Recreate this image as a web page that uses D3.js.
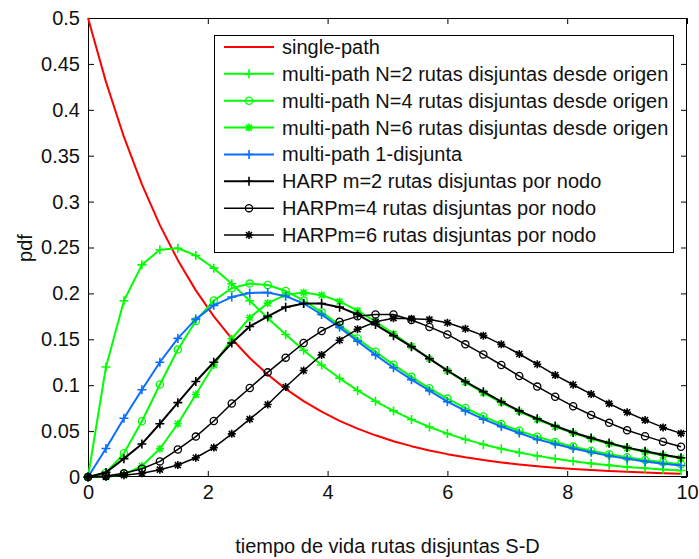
<!DOCTYPE html>
<html>
<head>
<meta charset="utf-8">
<script src="https://cdn.jsdelivr.net/npm/d3@7"></script>
<style>
  html, body { margin: 0; padding: 0; background: #fff; }
  svg { display: block; }
  text { font-family: "Liberation Sans", Arial, sans-serif; fill: #111; }
</style>
</head>
<body>
<svg id="chart" width="699" height="559"></svg>
<script>
// ---- data ----
const tValues = [0,0.3,0.6,0.9,1.2,1.5,1.8,2.1,2.4,2.7,3.0,3.3,3.6,3.9,4.2,4.5,4.8,5.1,5.4,5.7,6.0,6.3,6.6,6.9,7.2,7.5,7.8,8.1,8.4,8.7,9.0,9.3,9.6,9.9];

const singlePath = [0.5,0.4304,0.3704,0.3188,0.2744,0.2362,0.2033,0.1750,0.1506,0.1296,0.1116,0.0960,0.0826,0.0711,0.0612,0.0527,0.0454,0.0390,0.0336,0.0289,0.0249,0.0214,0.0184,0.0159,0.0137,0.0118,0.0101,0.0087,0.0075,0.0065,0.0056,0.0048,0.0041,0.0035];

const multiN2 = [0,0.1199,0.1920,0.2311,0.2476,0.2492,0.2413,0.2275,0.2105,0.1920,0.1733,0.1552,0.1380,0.1220,0.1075,0.0943,0.0825,0.0720,0.0627,0.0545,0.0473,0.0410,0.0355,0.0307,0.0266,0.0230,0.0198,0.0171,0.0148,0.0127,0.0110,0.0095,0.0082,0.0070];

const multiN4 = [0,0.0047,0.0258,0.0607,0.1008,0.1388,0.1699,0.1923,0.2056,0.2107,0.2092,0.2026,0.1923,0.1796,0.1655,0.1509,0.1364,0.1224,0.1091,0.0967,0.0854,0.0751,0.0659,0.0576,0.0503,0.0438,0.0381,0.0331,0.0287,0.0248,0.0215,0.0186,0.0161,0.0139];

const multiN6 = [0,0.0001,0.0026,0.0120,0.0308,0.0580,0.0898,0.1219,0.1506,0.1735,0.1894,0.1984,0.2009,0.1981,0.1912,0.1812,0.1692,0.1560,0.1424,0.1288,0.1157,0.1033,0.0917,0.0811,0.0714,0.0626,0.0548,0.0479,0.0417,0.0363,0.0315,0.0273,0.0237,0.0205];

const multi1Disj = [0,0.031,0.064,0.095,0.125,0.151,0.172,0.187,0.196,0.2005,0.201,0.197,0.189,0.177,0.163,0.148,0.133,0.119,0.106,0.094,0.082,0.072,0.063,0.055,0.048,0.041,0.036,0.031,0.027,0.023,0.020,0.017,0.0145,0.0125];

const harpM2 = [0,0.005,0.020,0.036,0.058,0.081,0.104,0.125,0.146,0.164,0.175,0.185,0.189,0.189,0.185,0.177,0.166,0.154,0.142,0.129,0.116,0.104,0.093,0.082,0.072,0.0635,0.0555,0.0485,0.0425,0.037,0.032,0.028,0.0243,0.021];

const harpM4 = [0,0.001,0.004,0.009,0.017,0.030,0.044,0.061,0.080,0.097,0.114,0.130,0.146,0.159,0.169,0.175,0.177,0.177,0.171,0.1635,0.1553,0.1445,0.1335,0.122,0.110,0.0985,0.0875,0.077,0.0675,0.059,0.051,0.0445,0.0385,0.033];

const harpM6 = [0,0.0003,0.002,0.004,0.008,0.013,0.021,0.032,0.047,0.063,0.079,0.098,0.116,0.133,0.149,0.161,0.169,0.173,0.1725,0.1715,0.168,0.1615,0.154,0.1445,0.134,0.1228,0.111,0.1005,0.0903,0.080,0.0705,0.062,0.054,0.0475];

const seriesNames = [
  "single-path",
  "multi-path N=2 rutas disjuntas desde origen",
  "multi-path N=4 rutas disjuntas desde origen",
  "multi-path N=6 rutas disjuntas desde origen",
  "multi-path 1-disjunta",
  "HARP m=2 rutas disjuntas por nodo",
  "HARPm=4 rutas disjuntas por nodo",
  "HARPm=6 rutas disjuntas por nodo"
];
const seriesValues = [singlePath, multiN2, multiN4, multiN6, multi1Disj, harpM2, harpM4, harpM6];
const seriesColors = ["#ff0000","#00ff00","#00ff00","#00ff00","#0a6eff","#000000","#000000","#000000"];
const seriesMarkers = ["none","plus","circle","star","plus","plus","circle","star"];
const seriesWidths = [2, 2, 2, 2, 2, 2, 1.5, 1.5];

const xTicks = [0,2,4,6,8,10];
const yTicks = [0,0.05,0.1,0.15,0.2,0.25,0.3,0.35,0.4,0.45,0.5];
const yTickLabels = ["0","0.05","0.1","0.15","0.2","0.25","0.3","0.35","0.4","0.45","0.5"];
const xLabel = "tiempo de vida rutas disjuntas S-D";
const yLabel = "pdf";

// ---- layout ----
const L = 88, R = 687, T = 18, B = 477;
const svg = d3.select("#chart");
const x = d3.scaleLinear().domain([0, 10]).range([L, R]);
const y = d3.scaleLinear().domain([0, 0.5]).range([B, T]);

const fontSize = 20;

// axes
const gx = svg.append("g").attr("transform", `translate(0,${B})`)
  .call(d3.axisBottom(x).tickValues(xTicks).tickFormat(d3.format("d")).tickSizeInner(-6).tickSizeOuter(0).tickPadding(8));
const gy = svg.append("g").attr("transform", `translate(${L},0)`)
  .call(d3.axisLeft(y).tickValues(yTicks).tickFormat((d, i) => yTickLabels[i]).tickSizeInner(-6).tickSizeOuter(0).tickPadding(8));
const gt = svg.append("g").attr("transform", `translate(0,${T})`)
  .call(d3.axisTop(x).tickValues(xTicks).tickFormat("").tickSizeInner(-6).tickSizeOuter(0));
const gr = svg.append("g").attr("transform", `translate(${R},0)`)
  .call(d3.axisRight(y).tickValues(yTicks).tickFormat("").tickSizeInner(-6).tickSizeOuter(0));
[gx, gy, gt, gr].forEach(g => {
  g.select(".domain").remove();
  g.selectAll("line").attr("stroke", "#000").attr("stroke-width", 1);
  g.selectAll("text").attr("font-size", fontSize).attr("font-family", '"Liberation Sans", Arial, sans-serif').attr("fill", "#111");
});
svg.append("rect").attr("x", L + 0.5).attr("y", T + 0.5).attr("width", R - L - 1).attr("height", B - T - 1)
  .attr("fill", "none").attr("stroke", "#000").attr("stroke-width", 1);

// axis labels
svg.append("text").attr("x", (L + R) / 2).attr("y", 553).attr("text-anchor", "middle")
  .attr("font-size", fontSize).text(xLabel);
svg.append("text").attr("transform", "translate(32,248) rotate(-90)").attr("text-anchor", "middle")
  .attr("font-size", fontSize).text(yLabel);

// marker drawing
function markerPath(type) {
  if (type === "plus") return "M-4.5,0H4.5M0,-4.5V4.5";
  if (type === "star") return "M-4,0H4M0,-4V4M-3,-3L3,3M-3,3L3,-3";
  return null;
}
function drawMarker(g, type, cx, cy, color) {
  if (type === "circle") {
    g.append("circle").attr("cx", cx).attr("cy", cy).attr("r", 3.6)
      .attr("fill", "none").attr("stroke", color).attr("stroke-width", 1.3);
  } else if (type !== "none") {
    g.append("path").attr("d", markerPath(type)).attr("transform", `translate(${cx},${cy})`)
      .attr("fill", "none").attr("stroke", color).attr("stroke-width", type === "star" ? 1.6 : 1.6);
  }
}

const line = d3.line().x((d, i) => x(tValues[i])).y(d => y(d));
const plotG = svg.append("g");
seriesValues.forEach((vals, s) => {
  const g = plotG.append("g");
  g.append("path").datum(vals).attr("d", line).attr("fill", "none")
    .attr("stroke", seriesColors[s]).attr("stroke-width", seriesWidths[s]).attr("stroke-linejoin", "round");
  vals.forEach((v, i) => drawMarker(g, seriesMarkers[s], x(tValues[i]), y(v), seriesColors[s]));
});

// legend
const lg = svg.append("g");
lg.append("rect").attr("x", 214.5).attr("y", 35.5).attr("width", 459).attr("height", 217)
  .attr("fill", "#fff").attr("stroke", "#000").attr("stroke-width", 1);
seriesNames.forEach((name, s) => {
  const cy = 47 + s * 26.86;
  lg.append("line").attr("x1", 224).attr("x2", 274).attr("y1", cy).attr("y2", cy)
    .attr("stroke", seriesColors[s]).attr("stroke-width", seriesWidths[s]);
  drawMarker(lg, seriesMarkers[s], 249, cy, seriesColors[s]);
  lg.append("text").attr("x", 282).attr("y", cy).attr("dy", "0.35em")
    .attr("font-size", fontSize).text(name);
});
</script>
</body>
</html>
